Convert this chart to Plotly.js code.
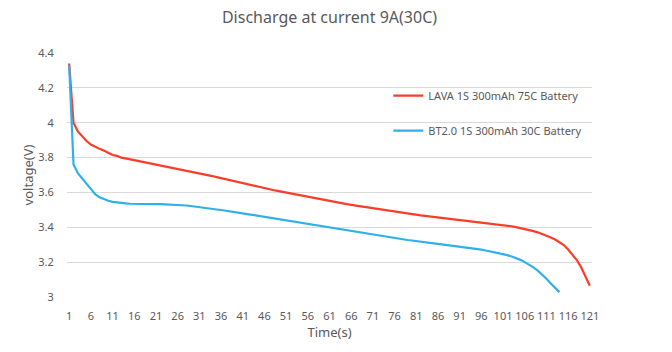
<!DOCTYPE html>
<html>
<head>
<meta charset="utf-8">
<script src="https://cdn.plot.ly/plotly-3.0.1.min.js"></script>
<style>html,body{margin:0;padding:0;background:#fff;}#chart{width:672px;height:352px;}</style>
</head>
<body>
<div id="chart"></div>
<script>
const seriesNames = ["LAVA 1S 300mAh 75C Battery", "BT2.0 1S 300mAh 30C Battery"];
const lavaVoltage = [
4.34,4.00,3.95,3.92,3.895,3.875,3.86,3.85,3.84,3.825,
3.815,3.81,3.80,3.795,3.79,3.785,3.78,3.775,3.77,3.765,
3.76,3.756,3.752,3.746,3.742,3.737,3.733,3.728,3.722,3.716,
3.71,3.705,3.70,3.694,3.688,3.682,3.677,3.671,3.665,3.658,
3.652,3.646,3.64,3.634,3.629,3.624,3.619,3.614,3.609,3.604,
3.599,3.594,3.589,3.584,3.579,3.574,3.57,3.566,3.561,3.556,
3.552,3.548,3.543,3.538,3.533,3.529,3.525,3.521,3.517,3.512,
3.508,3.504,3.50,3.496,3.492,3.488,3.485,3.482,3.478,3.474,
3.471,3.468,3.465,3.462,3.459,3.456,3.453,3.45,3.448,3.446,
3.444,3.44,3.437,3.435,3.432,3.43,3.427,3.424,3.42,3.417,
3.414,3.41,3.406,3.401,3.396,3.391,3.385,3.378,3.371,3.362,
3.352,3.341,3.33,3.316,3.298,3.272,3.24,3.212,3.17,3.115,
3.065];
const bt2Voltage = [
4.33,3.76,3.71,3.68,3.645,3.615,3.59,3.572,3.56,3.552,
3.546,3.542,3.539,3.537,3.535,3.534,3.533,3.533,3.533,3.533,
3.533,3.533,3.532,3.532,3.531,3.53,3.527,3.525,3.522,3.518,
3.514,3.511,3.508,3.505,3.502,3.499,3.496,3.492,3.488,3.484,
3.48,3.476,3.472,3.468,3.464,3.46,3.456,3.452,3.447,3.442,
3.437,3.432,3.428,3.424,3.42,3.416,3.412,3.408,3.404,3.40,
3.396,3.392,3.388,3.384,3.38,3.376,3.372,3.368,3.364,3.36,
3.356,3.352,3.348,3.345,3.341,3.338,3.334,3.331,3.327,3.324,
3.32,3.317,3.314,3.311,3.308,3.305,3.302,3.299,3.296,3.293,
3.29,3.287,3.284,3.28,3.276,3.272,3.267,3.262,3.257,3.252,
3.246,3.24,3.232,3.223,3.213,3.20,3.186,3.17,3.151,3.13,
3.105,3.078,3.05,3.028];
const xTickVals = [1,6,11,16,21,26,31,36,41,46,51,56,61,66,71,76,81,86,91,96,101,106,111,116,121];
const yTickVals = [3,3.2,3.4,3.6,3.8,4,4.2,4.4];
const yTickText = ["3","3.2","3.4","3.6","3.8","4","4.2","4.4"];

const timeOf = arr => arr.map((_, i) => i + 1);
const FONT = "Noto Sans, Open Sans, sans-serif";
const GREY = "#595959";

const traces = [
  {x: timeOf(lavaVoltage), y: lavaVoltage, name: seriesNames[0], type: "scatter", mode: "lines",
   line: {color: "#fa3c28", width: 2.2}, legendgroup: "a"},
  {x: timeOf(bt2Voltage), y: bt2Voltage, name: seriesNames[1], type: "scatter", mode: "lines",
   line: {color: "#2fb0ea", width: 2.2}, legendgroup: "b"}
];

const layout = {
  width: 672, height: 352,
  margin: {l: 67, r: 80, t: 53, b: 55, autoexpand: false},
  paper_bgcolor: "#fff", plot_bgcolor: "#fff",
  font: {family: FONT, color: GREY, size: 11},
  title: {text: "Discharge at current 9A(30C)", font: {family: FONT, size: 16, color: GREY},
          x: 0.5, xanchor: "center", y: 0.95, yanchor: "middle", xref: "paper"},
  showlegend: true,
  legend: {x: 0.612, y: 0.885, xanchor: "left", yanchor: "top", bgcolor: "rgba(0,0,0,0)",
           font: {family: FONT, size: 11, color: GREY}, tracegroupgap: 16, traceorder: "grouped"},
  xaxis: {type: "linear", range: [0.5, 121.5], tickmode: "array", tickvals: xTickVals,
          showgrid: false, zeroline: false, showline: false,
          ticks: "outside", ticklen: 9, tickcolor: "rgba(0,0,0,0)",
          tickfont: {family: FONT, size: 11, color: GREY},
          title: {text: "Time(s)", font: {family: FONT, size: 13, color: GREY}, standoff: 4}},
  yaxis: {range: [3, 4.4], tickmode: "array", tickvals: yTickVals, ticktext: yTickText,
          showgrid: true, gridcolor: "#d9d9d9", gridwidth: 1, zeroline: false, showline: false,
          ticks: "outside", ticklen: 10, tickcolor: "rgba(0,0,0,0)",
          tickfont: {family: FONT, size: 11, color: GREY},
          title: {text: "voltage(V)", font: {family: FONT, size: 13, color: GREY}, standoff: 1}},
  hovermode: false
};

Plotly.newPlot("chart", traces, layout, {displayModeBar: false, staticPlot: true});
</script>
</body>
</html>
